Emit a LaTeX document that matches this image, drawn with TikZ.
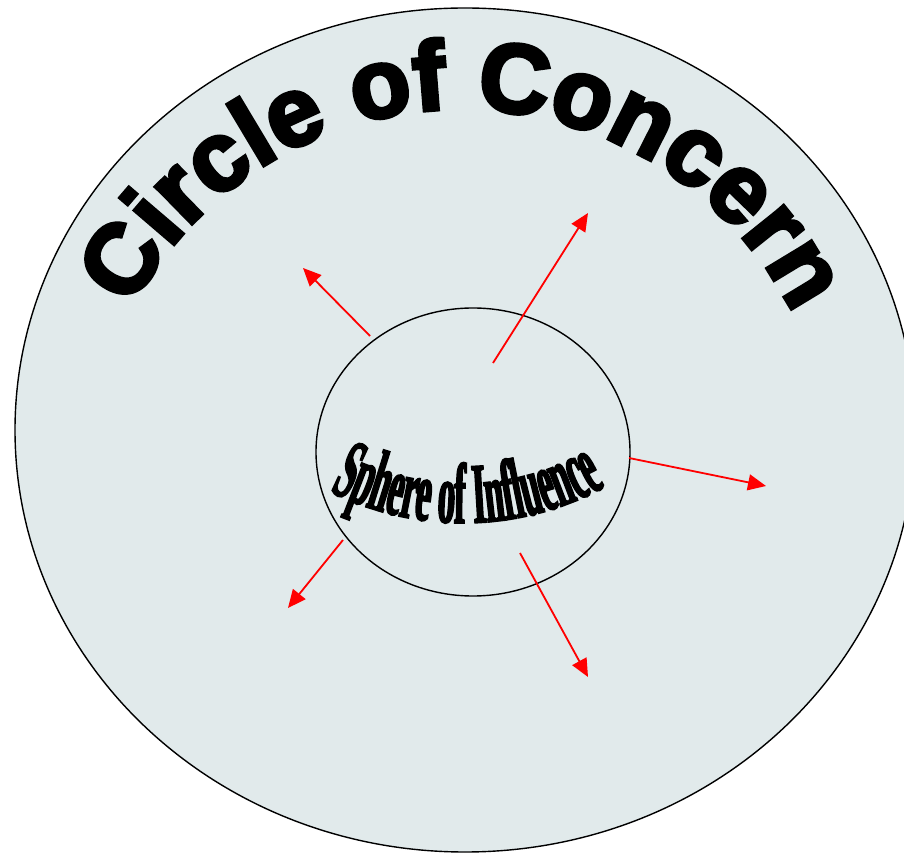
\documentclass[tikz,border=0pt]{standalone}
\usepackage{fontspec}
\usetikzlibrary{arrows.meta,decorations.text,shapes.geometric}
\newfontfamily\concernfont{Liberation Sans Bold}[FakeBold=4]
\newfontfamily\spherefont{Liberation Serif Bold}[FakeStretch=0.40,FakeBold=2]
\newcommand\concernfmt{\concernfont\fontsize{98}{100}\selectfont}
\newcommand\spherefmt{\spherefont\fontsize{86}{90}\selectfont}
\definecolor{bgfill}{RGB}{225,234,235}
\begin{document}
\begin{tikzpicture}[x=1pt,y=1pt,
  ring/.style={ellipse, draw=black, line width=1.4pt, fill=bgfill, inner sep=0pt},
  ray/.style={draw=red, line width=1.8pt, -{Triangle[length=18pt,width=16pt]}}]
\useasboundingbox (0,0) rectangle (904,854);
\clip (0,0) rectangle (904,854);
\node[ring, minimum width=900pt, minimum height=844pt] (concern) at (465,424) {};
\node[ring, minimum width=314pt, minimum height=288pt] (sphere) at (473,402) {};
% title on arc
\path[decorate, decoration={text along path, text align=center,
  text={|\concernfmt|Circle of Concern}}]
  (461,373) ++(158:372) arc[start angle=158, end angle=21, radius=372];
\path[decorate, decoration={text along path, text align=center,
  text={|\spherefmt|Sphere of Influence}}]
  (463,628) ++(236:297) arc[start angle=236, end angle=306, radius=297];
% arrows
\coordinate (a1s) at (370,518); \coordinate (a1e) at (303,586);
\coordinate (a2s) at (493,491); \coordinate (a2e) at (588,641);
\coordinate (a3s) at (629,396); \coordinate (a3e) at (766,368);
\coordinate (a4s) at (343,314); \coordinate (a4e) at (288,246);
\coordinate (a5s) at (520,301); \coordinate (a5e) at (588,177);
\draw[ray] (a1s) -- (a1e);
\draw[ray] (a2s) -- (a2e);
\draw[ray] (a3s) -- (a3e);
\draw[ray] (a4s) -- (a4e);
\draw[ray] (a5s) -- (a5e);
\end{tikzpicture}
\end{document}
